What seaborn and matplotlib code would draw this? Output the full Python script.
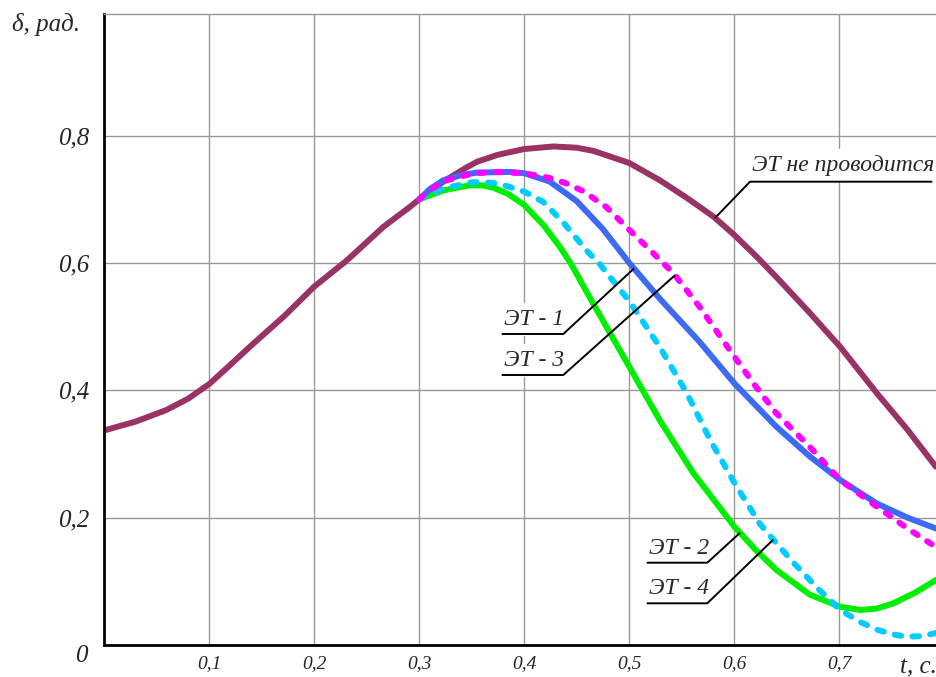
import numpy as np
import pandas as pd
import matplotlib
matplotlib.use("Agg")
import matplotlib.pyplot as plt
import seaborn as sns

# ---------------- data ----------------
t_base = [0.0, 0.03, 0.059, 0.08, 0.1, 0.12, 0.139, 0.171, 0.2, 0.231, 0.266, 0.291,
          0.3, 0.323, 0.345, 0.355, 0.375, 0.4, 0.428, 0.45, 0.466, 0.5, 0.529, 0.555,
          0.58, 0.6, 0.62, 0.64, 0.67, 0.701, 0.736, 0.765, 0.792]
d_base = [0.337, 0.351, 0.369, 0.387, 0.41, 0.44, 0.469, 0.516, 0.563, 0.604, 0.657, 0.688,
          0.700, 0.728, 0.750, 0.759, 0.770, 0.779, 0.783, 0.781, 0.776, 0.757, 0.730, 0.702,
          0.673, 0.644, 0.612, 0.578, 0.525, 0.468, 0.395, 0.338, 0.280]

t_et1 = [0.3, 0.31, 0.323, 0.34, 0.355, 0.386, 0.4, 0.424, 0.44, 0.45, 0.475, 0.5,
         0.529, 0.567, 0.6, 0.62, 0.64, 0.672, 0.701, 0.736, 0.765, 0.792]
d_et1 = [0.700, 0.716, 0.730, 0.738, 0.742, 0.743, 0.741, 0.728, 0.709, 0.697, 0.653, 0.600,
         0.544, 0.476, 0.411, 0.377, 0.343, 0.296, 0.259, 0.222, 0.200, 0.183]

t_et3 = [0.3, 0.31, 0.325, 0.339, 0.355, 0.374, 0.4, 0.423, 0.44, 0.456, 0.478, 0.5,
         0.52, 0.542, 0.567, 0.6, 0.62, 0.64, 0.672, 0.701, 0.736, 0.765, 0.792]
d_et3 = [0.700, 0.715, 0.729, 0.736, 0.741, 0.743, 0.741, 0.734, 0.725, 0.713, 0.688, 0.652,
         0.620, 0.584, 0.531, 0.453, 0.407, 0.364, 0.311, 0.259, 0.217, 0.183, 0.154]

t_et4 = [0.3, 0.323, 0.351, 0.37, 0.385, 0.4, 0.418, 0.437, 0.459, 0.472, 0.5, 0.529,
         0.555, 0.577, 0.6, 0.624, 0.64, 0.656, 0.68, 0.701, 0.72, 0.736, 0.75, 0.764,
         0.78, 0.792]
d_et4 = [0.700, 0.717, 0.727, 0.726, 0.720, 0.712, 0.696, 0.664, 0.620, 0.598, 0.540, 0.468,
         0.395, 0.322, 0.255, 0.191, 0.160, 0.130, 0.088, 0.055, 0.036, 0.024, 0.017, 0.013,
         0.014, 0.019]

t_et2 = [0.3, 0.323, 0.348, 0.36, 0.371, 0.385, 0.4, 0.418, 0.434, 0.444, 0.466, 0.5,
         0.529, 0.561, 0.6, 0.62, 0.64, 0.672, 0.701, 0.72, 0.735, 0.751, 0.772, 0.792]
d_et2 = [0.700, 0.714, 0.722, 0.722, 0.718, 0.708, 0.691, 0.660, 0.625, 0.600, 0.535, 0.437,
         0.353, 0.270, 0.186, 0.150, 0.118, 0.079, 0.060, 0.055, 0.057, 0.065, 0.082, 0.102]

x_ticks = [0.1, 0.2, 0.3, 0.4, 0.5, 0.6, 0.7]
x_ticklabels = ["0,1", "0,2", "0,3", "0,4", "0,5", "0,6", "0,7"]
y_ticks = [0.2, 0.4, 0.6, 0.8]
y_ticklabels = ["0,2", "0,4", "0,6", "0,8"]

series_names = ["ЭТ не проводится", "ЭТ - 1", "ЭТ - 3", "ЭТ - 4", "ЭТ - 2"]

# ---------------- styling ----------------
sns.set_theme(style="white")
plt.rcParams["font.family"] = ["Liberation Serif", "DejaVu Serif"]
plt.rcParams["font.style"] = "italic"

W, H = 936, 677
fig = plt.figure(figsize=(W / 100, H / 100), dpi=100)
fig.patch.set_facecolor("white")

x0_px, y0_px = 104.3, 645.0
px_per_t = 1050.0
px_per_d = 636.7
ax = fig.add_axes([x0_px / W, (H - y0_px) / H, 0.8 * px_per_t / W, (y0_px - 14) / H])
ax.set_xlim(0, 0.8)
ax.set_ylim(0, (y0_px - 14) / px_per_d)
ax.set_facecolor("white")

styles = {
    "ЭТ не проводится": dict(color="#993366", linestyle="-"),
    "ЭТ - 1": dict(color="#3D6AF5", linestyle="-"),
    "ЭТ - 3": dict(color="#FF00FF", linestyle=(0, (0.9, 1.9))),
    "ЭТ - 4": dict(color="#00CCFF", linestyle=(0, (1.1, 1.9))),
    "ЭТ - 2": dict(color="#00EE00", linestyle="-"),
}
data = {
    "ЭТ не проводится": (t_base, d_base),
    "ЭТ - 1": (t_et1, d_et1),
    "ЭТ - 3": (t_et3, d_et3),
    "ЭТ - 4": (t_et4, d_et4),
    "ЭТ - 2": (t_et2, d_et2),
}
order = ["ЭТ не проводится", "ЭТ - 2", "ЭТ - 4", "ЭТ - 1", "ЭТ - 3"]
for name in order:
    tt, dd = data[name]
    df = pd.DataFrame({"t": tt, "d": dd})
    sns.lineplot(data=df, x="t", y="d", ax=ax, sort=False, lw=4.3,
                 solid_capstyle="round", solid_joinstyle="round",
                 dash_capstyle="round", dash_joinstyle="round", zorder=2,
                 **styles[name])

# grid and spines
ax.set_xticks(x_ticks)
ax.set_yticks(y_ticks)
ax.grid(True, color="#999999", lw=1.0)
ax.set_axisbelow(True)
for s in ["left", "bottom"]:
    ax.spines[s].set_color("black")
    ax.spines[s].set_linewidth(2.0)
ax.spines["top"].set_color("#999999")
ax.spines["top"].set_linewidth(1.0)
ax.spines["right"].set_visible(False)

ax.set_xticklabels(x_ticklabels, fontsize=14, style="italic")
ax.set_yticklabels(y_ticklabels, fontsize=18, style="italic")
ax.tick_params(axis="x", length=0, pad=7)
ax.tick_params(axis="y", length=0, pad=11)
ax.set_xlabel("")
ax.set_ylabel("")

ax.annotate("0", xy=(0, 0), xytext=(-17, -11), textcoords="offset pixels",
            ha="right", va="center", fontsize=18, style="italic")
fig.text(12 / W, 1 - 25 / H, "δ, рад.", ha="left", va="center", fontsize=18, style="italic")
fig.text(900 / W, 1 - 667 / H, "t, c.", ha="left", va="center", fontsize=18, style="italic")


# ---------------- leader labels ----------------
def px2t(px):
    return (px - x0_px) / px_per_t


def py2d(py):
    return (y0_px - py) / px_per_d


def label(name, x_start_px, x_end_px, y_line_px, target_px, from_left=False, text_dy=9):
    tt, dd = data[name]
    target_t = px2t(target_px)
    target_d = np.interp(target_t, tt, dd)
    ts, te, dl = px2t(x_start_px), px2t(x_end_px), py2d(y_line_px)
    if from_left:
        xs, ys = [te, ts, target_t], [dl, dl, target_d]
    else:
        xs, ys = [ts, te, target_t], [dl, dl, target_d]
    ax.plot(xs, ys, color="black", lw=1.4, zorder=3, solid_capstyle="butt")
    ax.annotate(name, xy=(ts, dl), xytext=(2, text_dy), textcoords="offset pixels",
                ha="left", va="baseline", fontsize=17, style="italic", zorder=1.5,
                bbox=dict(boxstyle="square,pad=0.25", fc="white", ec="none"))


label("ЭТ - 1", 501.7, 563.3, 334, 634)
label("ЭТ - 3", 501.7, 563.3, 375, 675)
label("ЭТ - 2", 646.7, 707.3, 562.7, 740)
label("ЭТ - 4", 646.7, 707.3, 603.3, 773.3)
label("ЭТ не проводится", 750, 932.3, 181.7, 715, from_left=True, text_dy=11)

fig.savefig("out.png", dpi=100, facecolor="white")
